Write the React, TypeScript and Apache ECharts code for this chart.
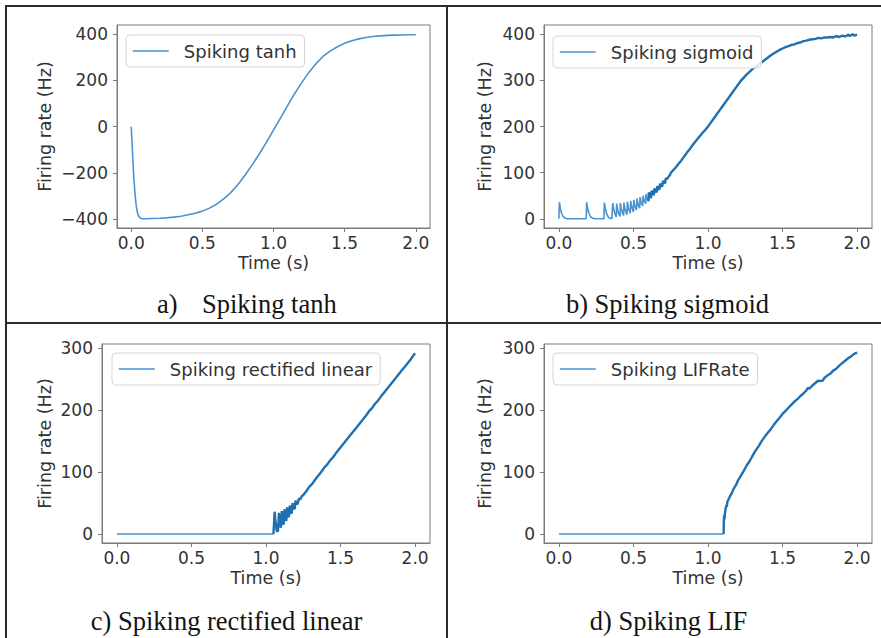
import React, { useEffect, useRef } from 'react';
import * as echarts from 'echarts';

// ---------- data ----------
const timeTicks = [0, 0.5, 1.0, 1.5, 2.0];
const tanhTicks = [-400, -200, 0, 200, 400];
const sigmoidTicks = [0, 100, 200, 300, 400];
const rate300Ticks = [0, 100, 200, 300];

const legendNames = ['Spiking tanh', 'Spiking sigmoid', 'Spiking rectified linear', 'Spiking LIFRate'];
const captionLetters = ['a)', 'b)', 'c)', 'd)'];
const captionTitles = ['Spiking tanh', 'Spiking sigmoid', 'Spiking rectified linear', 'Spiking LIF'];
const xAxisName = 'Time (s)';
const yAxisName = 'Firing rate (Hz)';

const tanhData = [
  [0, 0], [0.005, -60], [0.01, -125], [0.015, -185], [0.02, -235], [0.025, -278], [0.03, -312],
  [0.035, -340], [0.04, -360], [0.045, -374], [0.05, -384], [0.06, -393], [0.07, -397], [0.08, -398],
  [0.1, -398], [0.15, -397], [0.2, -396], [0.25, -394], [0.3, -391], [0.35, -387], [0.4, -381],
  [0.45, -374], [0.5, -365], [0.55, -352], [0.6, -335], [0.65, -312], [0.7, -285], [0.75, -250],
  [0.8, -210], [0.85, -165], [0.9, -118], [0.95, -68], [1.0, -15], [1.05, 38], [1.1, 92],
  [1.15, 145], [1.2, 192], [1.25, 236], [1.3, 274], [1.35, 305], [1.4, 328], [1.45, 346],
  [1.5, 361], [1.55, 372], [1.6, 380], [1.65, 386], [1.7, 390], [1.75, 393], [1.8, 395],
  [1.85, 396], [1.9, 397], [1.95, 398], [2.0, 398],
];

const sigmoidSpikes = [
  [0, 0], [0.003, 36], [0.01, 22], [0.018, 12], [0.028, 5], [0.04, 1.5], [0.055, 0],
  [0.183, 0], [0.186, 36], [0.193, 22], [0.201, 12], [0.211, 5], [0.223, 1.5], [0.24, 0],
  [0.302, 0], [0.305, 35], [0.312, 21], [0.32, 11], [0.33, 4], [0.342, 1], [0.355, 0],
  [0.358, 0.5], [0.361, 34], [0.368, 20], [0.376, 10], [0.385, 4],
  [0.387, 33], [0.394, 19], [0.402, 10], [0.41, 5],
  [0.412, 34], [0.419, 21], [0.427, 12], [0.434, 7],
  [0.436, 35], [0.443, 22], [0.451, 13], [0.457, 9],
  [0.459, 37], [0.466, 24], [0.474, 16], [0.479, 12],
  [0.481, 39], [0.488, 27], [0.495, 19], [0.5, 15],
  [0.502, 41], [0.509, 30], [0.516, 22], [0.521, 19],
  [0.523, 44], [0.53, 33], [0.537, 26], [0.542, 23],
  [0.544, 47], [0.551, 37], [0.558, 30], [0.562, 28],
  [0.564, 50], [0.571, 41], [0.578, 35], [0.582, 33],
  [0.584, 53], [0.591, 45], [0.598, 40], [0.601, 38],
];

const sigmoidRise = [
  [0.601, 38], [0.603, 57], [0.61, 50], [0.617, 45], [0.62, 44], [0.622, 61], [0.629, 55],
  [0.636, 51], [0.639, 50], [0.641, 66], [0.648, 60], [0.655, 57], [0.658, 56], [0.66, 71],
  [0.667, 66], [0.674, 63], [0.677, 63], [0.679, 76], [0.686, 72], [0.693, 70], [0.696, 70],
  [0.698, 82], [0.705, 79], [0.712, 77], [0.715, 78], [0.717, 88], [0.725, 86], [0.735, 91],
  [0.745, 95], [0.75, 99], [0.76, 103], [0.775, 108], [0.79, 114], [0.8, 118], [0.82, 126],
  [0.84, 135], [0.86, 144], [0.88, 152], [0.9, 161], [0.92, 169], [0.94, 177], [0.96, 185],
  [0.98, 192], [1.0, 200], [1.02, 209], [1.04, 218], [1.06, 227], [1.08, 236], [1.1, 245],
  [1.12, 254], [1.14, 263], [1.16, 272], [1.18, 281], [1.2, 290], [1.22, 299], [1.24, 306],
  [1.26, 313], [1.28, 319], [1.3, 325], [1.32, 330], [1.33, 331], [1.34, 335], [1.36, 339],
  [1.38, 344], [1.4, 349], [1.42, 354], [1.44, 358], [1.46, 362], [1.48, 366], [1.5, 369],
  [1.52, 372], [1.54, 374], [1.56, 377], [1.58, 378], [1.6, 381], [1.62, 382], [1.64, 385],
  [1.66, 386], [1.68, 388], [1.7, 389], [1.72, 390], [1.74, 392], [1.76, 391], [1.78, 393],
  [1.8, 393], [1.82, 394], [1.84, 393], [1.86, 396], [1.88, 394], [1.9, 397], [1.92, 395],
  [1.94, 399], [1.95, 396], [1.97, 400], [1.98, 397], [2.0, 399],
];

const reluFlat = [[0, 0], [1.05, 0]];
const reluRise = [
  [1.05, 0], [1.058, 36], [1.063, 22], [1.072, 5], [1.08, 4], [1.087, 34], [1.094, 18], [1.1, 10],
  [1.106, 37], [1.112, 22], [1.118, 15], [1.124, 40], [1.13, 27], [1.136, 21], [1.142, 43],
  [1.148, 31], [1.154, 27], [1.16, 46], [1.166, 37], [1.172, 33], [1.178, 50], [1.185, 42],
  [1.192, 40], [1.198, 54], [1.205, 49], [1.212, 48], [1.22, 57], [1.23, 56], [1.24, 61],
  [1.25, 63], [1.27, 69], [1.29, 76], [1.31, 81], [1.33, 88], [1.35, 94], [1.37, 100],
  [1.39, 107], [1.41, 112], [1.43, 119], [1.45, 124], [1.47, 131], [1.49, 137], [1.51, 143],
  [1.53, 149], [1.55, 155], [1.57, 161], [1.59, 167], [1.61, 173], [1.63, 179], [1.65, 185],
  [1.67, 191], [1.69, 198], [1.71, 203], [1.73, 210], [1.75, 215], [1.77, 222], [1.79, 228],
  [1.81, 234], [1.83, 240], [1.85, 246], [1.87, 252], [1.89, 258], [1.91, 264], [1.93, 270],
  [1.95, 276], [1.97, 282], [1.99, 289], [2.0, 292],
];

const lifFlat = [[0, 0], [1.105, 0]];
const lifRise = [
  [1.105, 0], [1.106, 20], [1.108, 30], [1.111, 24], [1.114, 34], [1.118, 40], [1.122, 46],
  [1.126, 44], [1.13, 52], [1.14, 57], [1.15, 62], [1.16, 66], [1.17, 72], [1.18, 76], [1.19, 80],
  [1.2, 86], [1.22, 94], [1.24, 102], [1.26, 111], [1.28, 118], [1.3, 127], [1.32, 135],
  [1.34, 142], [1.36, 150], [1.38, 157], [1.4, 163], [1.42, 169], [1.44, 176], [1.46, 182],
  [1.48, 188], [1.5, 194], [1.52, 199], [1.54, 204], [1.56, 209], [1.58, 214], [1.6, 218],
  [1.62, 223], [1.64, 227], [1.66, 232], [1.67, 236], [1.68, 235], [1.7, 240], [1.72, 244],
  [1.74, 248], [1.75, 247], [1.77, 248], [1.78, 252], [1.8, 256], [1.82, 259], [1.84, 264],
  [1.86, 267], [1.88, 272], [1.9, 276], [1.92, 280], [1.94, 284], [1.96, 287], [1.98, 291],
  [2.0, 293],
];

// ---------- layout ----------
const W = 881;
const H = 638;
const THIN = '#4a92d0';
const THICK = '#1f70b2';
const FRAME = '#7a7a7a';
const TXT = '#333333';
const SANS = 'DejaVu Sans';
const SERIF = 'Liberation Serif';

const panels = [
  { grid: { left: 117, top: 25, width: 313, height: 203 }, yMin: -438, yMax: 440, yTicks: tanhTicks, yNameGap: 63, legend: { left: 126, top: 35 } },
  { grid: { left: 544, top: 25, width: 328, height: 203 }, yMin: -20, yMax: 420, yTicks: sigmoidTicks, yNameGap: 50, legend: { left: 553, top: 36 } },
  { grid: { left: 102, top: 344, width: 328, height: 199 }, yMin: -14.6, yMax: 307, yTicks: rate300Ticks, yNameGap: 48, legend: { left: 112, top: 353 } },
  { grid: { left: 544, top: 344, width: 328, height: 199 }, yMin: -14.6, yMax: 307, yTicks: rate300Ticks, yNameGap: 50, legend: { left: 553, top: 353 } },
];

const fmtY = (v: number) => (v < 0 ? '\u2212' + Math.abs(v) : String(v));

function buildOption() {
  const grids = panels.map((p) => ({
    ...p.grid,
    show: true,
    borderColor: FRAME,
    borderWidth: 1,
    backgroundColor: 'transparent',
    containLabel: false,
  }));

  const xAxes = panels.map((p, i) => ({
    type: 'value',
    gridIndex: i,
    min: -0.1,
    max: 2.1,
    axisLine: { show: true, onZero: false, lineStyle: { color: FRAME, width: 1 } },
    axisTick: { show: true, length: 4, customValues: timeTicks, lineStyle: { color: FRAME } },
    axisLabel: {
      customValues: timeTicks,
      formatter: (v: number) => v.toFixed(1),
      color: TXT, fontSize: 17, fontFamily: SANS, margin: 6,
    },
    splitLine: { show: false },
    name: xAxisName,
    nameLocation: 'middle',
    nameGap: 26,
    nameTextStyle: { color: TXT, fontSize: 17.5, fontFamily: SANS },
  }));

  const yAxes = panels.map((p, i) => ({
    type: 'value',
    gridIndex: i,
    min: p.yMin,
    max: p.yMax,
    axisLine: { show: true, onZero: false, lineStyle: { color: FRAME, width: 1 } },
    axisTick: { show: true, length: 4, customValues: p.yTicks, lineStyle: { color: FRAME } },
    axisLabel: {
      customValues: p.yTicks,
      formatter: fmtY,
      color: TXT, fontSize: 17, fontFamily: SANS, margin: 9,
    },
    splitLine: { show: false },
    name: yAxisName,
    nameLocation: 'middle',
    nameGap: p.yNameGap,
    nameTextStyle: { color: TXT, fontSize: 17.5, fontFamily: SANS },
  }));

  const line = (name: string, data: number[][], i: number, thick: boolean) => ({
    type: 'line',
    name,
    xAxisIndex: i,
    yAxisIndex: i,
    data,
    symbol: 'none',
    showSymbol: false,
    silent: true,
    lineStyle: { color: thick ? THICK : THIN, width: thick ? 2.4 : 1.6 },
    itemStyle: { color: thick ? THICK : THIN },
  });

  const series = [
    line(legendNames[0], tanhData, 0, false),
    line(legendNames[1], sigmoidSpikes, 1, false),
    line(legendNames[1] + ' (dense)', sigmoidRise, 1, true),
    line(legendNames[2], reluFlat, 2, false),
    line(legendNames[2] + ' (dense)', reluRise, 2, true),
    line(legendNames[3], lifFlat, 3, false),
    line(legendNames[3] + ' (dense)', lifRise, 3, true),
  ];

  const legends = panels.map((p, i) => ({
    left: p.legend.left,
    top: p.legend.top,
    data: [legendNames[i]],
    orient: 'vertical',
    itemWidth: 36,
    itemHeight: 14,
    padding: [7, 8, 7, 6],
    backgroundColor: 'rgba(255,255,255,0.85)',
    borderColor: '#d6d6d6',
    borderWidth: 1,
    borderRadius: 4,
    selectedMode: false,
    itemStyle: { opacity: 0, borderWidth: 0 },
    lineStyle: { color: THIN, width: 1.6 },
    textStyle: { color: TXT, fontSize: 18, fontFamily: SANS, padding: [0, 0, 0, 10] },
  }));

  const border = { stroke: '#2b2b2b', lineWidth: 2 };
  const graphics: any[] = [
    { type: 'line', shape: { x1: 5, y1: 6, x2: W, y2: 6 }, style: border },
    { type: 'line', shape: { x1: 6, y1: 5, x2: 6, y2: H }, style: border },
    { type: 'line', shape: { x1: 447, y1: 5, x2: 447, y2: H }, style: border },
    { type: 'line', shape: { x1: 5, y1: 323, x2: W, y2: 323 }, style: border },
  ];
  const capStyle = (text: string, x: number, y: number, align: string) => ({
    type: 'text',
    x, y,
    style: {
      text, fill: '#141414', fontSize: 26.5, fontFamily: SERIF,
      textAlign: align, textVerticalAlign: 'middle', align, verticalAlign: 'middle',
    },
  });
  graphics.push(capStyle(captionLetters[0], 157, 304, 'left'));
  graphics.push(capStyle(captionTitles[0], 202, 304, 'left'));
  graphics.push(capStyle(captionLetters[1] + ' ' + captionTitles[1], 667.5, 304, 'center'));
  graphics.push(capStyle(captionLetters[2] + ' ' + captionTitles[2], 226.5, 621, 'center'));
  graphics.push(capStyle(captionLetters[3] + ' ' + captionTitles[3], 668.5, 621, 'center'));

  return {
    animation: false,
    backgroundColor: '#ffffff',
    grid: grids,
    xAxis: xAxes,
    yAxis: yAxes,
    legend: legends,
    series,
    graphic: graphics,
  };
}

export default function App() {
  const ref = useRef<HTMLDivElement>(null);
  useEffect(() => {
    if (!ref.current) return;
    const chart = echarts.init(ref.current, undefined, { renderer: 'svg' });
    chart.setOption(buildOption() as any);
    return () => chart.dispose();
  }, []);
  return (
    <div
      ref={ref}
      style={{ position: 'absolute', left: 0, top: 0, width: W, height: H, background: '#fff' }}
    />
  );
}
